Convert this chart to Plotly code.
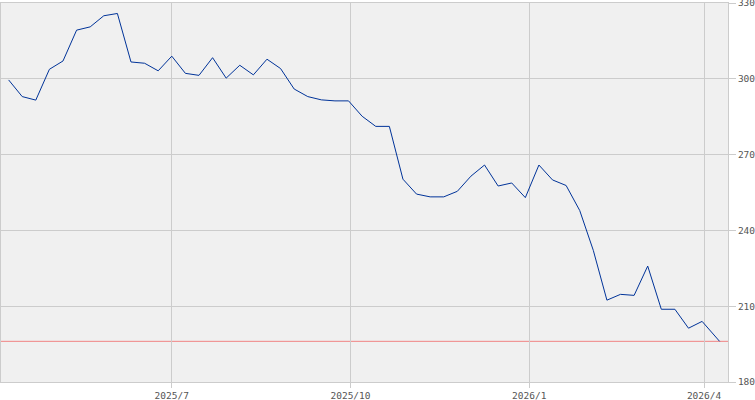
import pandas as pd
import plotly.graph_objects as go

# weekly closes
start_date = "2025-04-08"
last_date = "2026-04-09"
values = [299.6, 293.0, 291.6, 303.8, 307.1, 319.3, 320.6, 325.0, 325.9, 306.7,
          306.2, 303.2, 309.0, 302.2, 301.4, 308.4, 300.3, 305.4, 301.6, 307.8,
          304.1, 296.0, 293.0, 291.7, 291.3, 291.3, 285.2, 281.2, 281.2, 260.3,
          254.4, 253.3, 253.3, 255.5, 261.5, 265.9, 257.6, 258.8, 253.0, 265.9,
          260.0, 257.8, 247.9, 232.1, 212.4, 214.7, 214.3, 225.9, 208.8, 208.8,
          201.3, 204.0, 196.1]

x_ticks = ["2025-07-01", "2025-10-01", "2026-01-01", "2026-04-01"]
x_labels = ["2025/7", "2025/10", "2026/1", "2026/4"]
y_ticks = [180, 210, 240, 270, 300, 330]

dates = list(pd.date_range(start_date, periods=len(values) - 1, freq="7D"))
dates.append(pd.Timestamp(last_date))

grid = "#cccccc"
font = dict(family="DejaVu Sans Mono", size=9.5, color="#555555")

fig = go.Figure()
fig.add_trace(go.Scatter(
    x=dates, y=values, mode="lines",
    line=dict(color="#003399", width=1),
    hoverinfo="x+y", showlegend=False,
))

# reference line at latest value
fig.add_shape(type="line", xref="paper", x0=0, x1=1, yref="y",
              y0=values[-1], y1=values[-1],
              line=dict(color="#f08484", width=1), layer="between")

fig.update_layout(
    width=755, height=400,
    margin=dict(l=1, r=27, t=3, b=18, autoexpand=False),
    paper_bgcolor="white",
    plot_bgcolor="#f0f0f0",
    font=font,
)
fig.update_xaxes(
    type="date",
    range=["2025-04-04 02:00", "2026-04-13 08:00"],
    tickvals=x_ticks, ticktext=x_labels,
    showgrid=True, gridcolor=grid, gridwidth=1,
    ticks="outside", ticklen=5, tickcolor=grid,
    showline=True, linecolor=grid, linewidth=1, mirror=True,
    zeroline=False, tickfont=font,
)
fig.update_yaxes(
    side="right", range=[180, 330.05], tickvals=y_ticks,
    showgrid=True, gridcolor=grid, gridwidth=1,
    ticks="outside", ticklen=7, tickcolor=grid,
    showline=True, linecolor=grid, linewidth=1, mirror=True,
    zeroline=False, tickfont=font, ticklabeloverflow="allow",
)

# page has a default body margin; drop it so the figure sits at the corner
fig.write_html("out.html", config={"displayModeBar": False},
               post_script="document.body.style.margin='0';")
